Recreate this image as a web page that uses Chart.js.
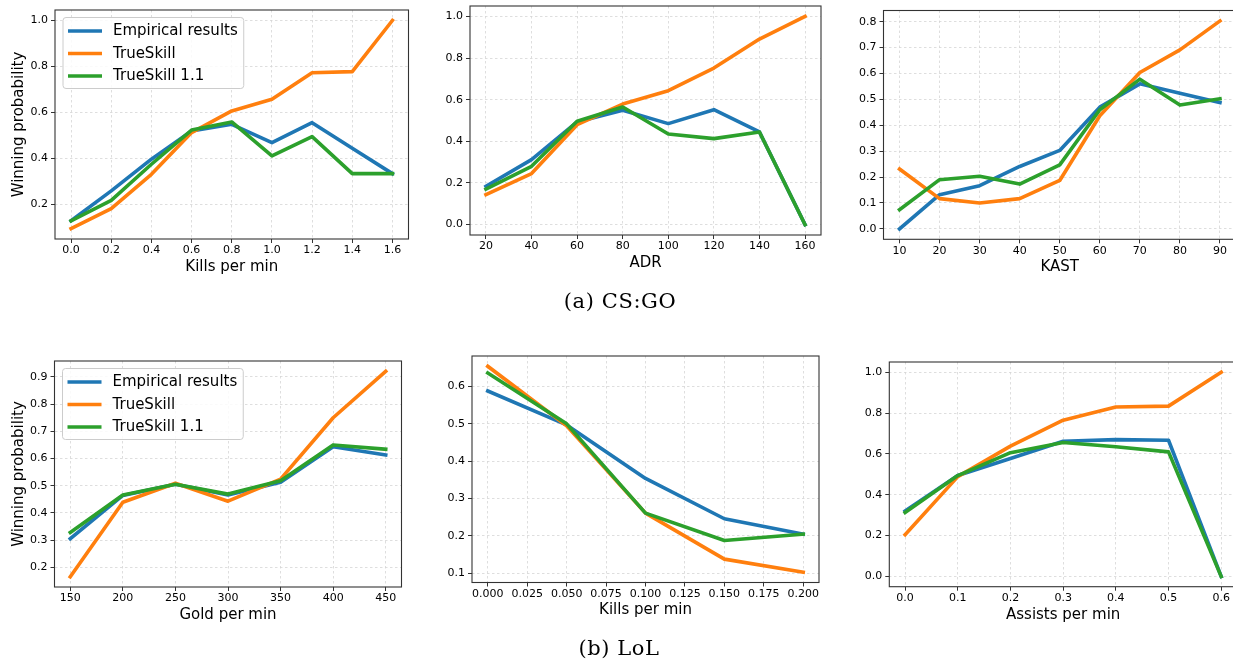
<!DOCTYPE html>
<html>
<head>
<meta charset="utf-8">
<script src="https://cdn.jsdelivr.net/npm/chart.js@4.4.1/dist/chart.umd.min.js"></script>
<style>
  html, body { margin: 0; padding: 0; background: #fff; overflow: hidden; }
  #wrap { position: relative; width: 1233px; height: 664px; overflow: hidden; }
  #wrap canvas { position: absolute; left: 0; top: 0; }
  .cap { position: absolute; font-family: "DejaVu Serif", serif; font-size: 21px; color: #000;
         transform: translate(-50%, -50%); white-space: nowrap; letter-spacing: 0.6px; }
</style>
</head>
<body>
<div id="wrap">
  <canvas id="c1" width="1240" height="664"></canvas>
  <canvas id="c2" width="1240" height="664"></canvas>
  <canvas id="c3" width="1240" height="664"></canvas>
  <canvas id="c4" width="1240" height="664"></canvas>
  <canvas id="c5" width="1240" height="664"></canvas>
  <canvas id="c6" width="1240" height="664"></canvas>
  <div class="cap" style="left:620px;top:301px">(a) CS:GO</div>
  <div class="cap" style="left:619px;top:648px">(b) LoL</div>
</div>
<script>
const seriesNames = ["Empirical results", "TrueSkill", "TrueSkill 1.1"];
const colors = ["#1f77b4", "#ff7f0e", "#2ca02c"];

// CS:GO - kills per min
const csKillsX = [0.0, 0.2, 0.4, 0.6, 0.8, 1.0, 1.2, 1.4, 1.6];
const csKillsEmp = [0.128, 0.258, 0.396, 0.519, 0.548, 0.468, 0.555, 0.444, 0.333];
const csKillsTs = [0.094, 0.181, 0.330, 0.512, 0.606, 0.657, 0.772, 0.777, 1.0];
const csKillsTs11 = [0.128, 0.217, 0.374, 0.523, 0.558, 0.410, 0.494, 0.333, 0.333];
const csKillsXTicks = ["0.0", "0.2", "0.4", "0.6", "0.8", "1.0", "1.2", "1.4", "1.6"];
const csKillsYTicks = ["0.2", "0.4", "0.6", "0.8", "1.0"];

// CS:GO - ADR
const adrX = [20, 40, 60, 80, 100, 120, 140, 160];
const adrEmp = [0.184, 0.312, 0.493, 0.549, 0.485, 0.552, 0.445, 0.0];
const adrTs = [0.144, 0.245, 0.480, 0.579, 0.643, 0.752, 0.891, 1.0];
const adrTs11 = [0.171, 0.280, 0.496, 0.565, 0.435, 0.413, 0.445, 0.0];
const adrXTicks = ["20", "40", "60", "80", "100", "120", "140", "160"];
const adrYTicks = ["0.0", "0.2", "0.4", "0.6", "0.8", "1.0"];

// CS:GO - KAST
const kastX = [10, 20, 30, 40, 50, 60, 70, 80, 90];
const kastEmp = [0.0, 0.132, 0.167, 0.241, 0.303, 0.470, 0.560, 0.524, 0.488];
const kastTs = [0.231, 0.117, 0.100, 0.117, 0.187, 0.437, 0.604, 0.691, 0.803];
const kastTs11 = [0.074, 0.190, 0.203, 0.173, 0.247, 0.460, 0.578, 0.478, 0.502];
const kastXTicks = ["10", "20", "30", "40", "50", "60", "70", "80", "90"];
const kastYTicks = ["0.0", "0.1", "0.2", "0.3", "0.4", "0.5", "0.6", "0.7", "0.8"];

// LoL - gold per min
const goldX = [150, 200, 250, 300, 350, 400, 450];
const goldEmp = [0.305, 0.464, 0.505, 0.466, 0.513, 0.643, 0.613];
const goldTs = [0.165, 0.439, 0.509, 0.443, 0.524, 0.750, 0.921];
const goldTs11 = [0.328, 0.466, 0.505, 0.469, 0.518, 0.650, 0.634];
const goldXTicks = ["150", "200", "250", "300", "350", "400", "450"];
const goldYTicks = ["0.2", "0.3", "0.4", "0.5", "0.6", "0.7", "0.8", "0.9"];

// LoL - kills per min
const lolKillsX = [0.0, 0.05, 0.10, 0.15, 0.20];
const lolKillsEmp = [0.588, 0.497, 0.354, 0.246, 0.205];
const lolKillsTs = [0.654, 0.495, 0.261, 0.138, 0.103];
const lolKillsTs11 = [0.636, 0.500, 0.261, 0.188, 0.205];
const lolKillsXTicks = ["0.000", "0.025", "0.050", "0.075", "0.100", "0.125", "0.150", "0.175", "0.200"];
const lolKillsYTicks = ["0.1", "0.2", "0.3", "0.4", "0.5", "0.6"];

// LoL - assists per min
const assistsX = [0.0, 0.1, 0.2, 0.3, 0.4, 0.5, 0.6];
const assistsEmp = [0.321, 0.494, 0.578, 0.662, 0.670, 0.667, 0.0];
const assistsTs = [0.205, 0.489, 0.638, 0.765, 0.830, 0.834, 1.0];
const assistsTs11 = [0.313, 0.494, 0.606, 0.656, 0.635, 0.610, 0.0];
const assistsXTicks = ["0.0", "0.1", "0.2", "0.3", "0.4", "0.5", "0.6"];
const assistsYTicks = ["0.0", "0.2", "0.4", "0.6", "0.8", "1.0"];

const W = 1240, H = 664;
const FONT = '"DejaVu Sans", sans-serif';

const panels = [
  { id: "c1", x: csKillsX, series: [csKillsEmp, csKillsTs, csKillsTs11], xTicks: csKillsXTicks, yTicks: csKillsYTicks,
    xTitle: "Kills per min", yTitle: "Winning probability", legend: true, area: { left: 55, top: 10, right: 408.5, bottom: 239 } },
  { id: "c2", x: adrX, series: [adrEmp, adrTs, adrTs11], xTicks: adrXTicks, yTicks: adrYTicks,
    xTitle: "ADR", area: { left: 470, top: 6, right: 821, bottom: 235 } },
  { id: "c3", x: kastX, series: [kastEmp, kastTs, kastTs11], xTicks: kastXTicks, yTicks: kastYTicks,
    xTitle: "KAST", area: { left: 883.5, top: 10.5, right: 1236, bottom: 239.3 } },
  { id: "c4", x: goldX, series: [goldEmp, goldTs, goldTs11], xTicks: goldXTicks, yTicks: goldYTicks,
    xTitle: "Gold per min", yTitle: "Winning probability", legend: true, area: { left: 54.5, top: 361, right: 401.5, bottom: 587 } },
  { id: "c5", x: lolKillsX, series: [lolKillsEmp, lolKillsTs, lolKillsTs11], xTicks: lolKillsXTicks, yTicks: lolKillsYTicks,
    xTitle: "Kills per min", area: { left: 472, top: 356, right: 819, bottom: 582.5 } },
  { id: "c6", x: assistsX, series: [assistsEmp, assistsTs, assistsTs11], xTicks: assistsXTicks, yTicks: assistsYTicks,
    xTitle: "Assists per min", area: { left: 889.3, top: 362, right: 1237, bottom: 586.7 } },
];

// box around the plot, like matplotlib spines
const frame = {
  id: "frame",
  afterDraw(chart) {
    const { ctx, chartArea: a } = chart;
    ctx.save();
    ctx.strokeStyle = "#333";
    ctx.lineWidth = 1.1;
    ctx.strokeRect(a.left, a.top, a.right - a.left, a.bottom - a.top);
    ctx.restore();
  },
};

// legend drawn inside the plot, upper left
const inPlotLegend = {
  id: "inPlotLegend",
  afterDatasetsDraw(chart, args, opts) {
    if (!opts.show) return;
    const { ctx, chartArea } = chart;
    ctx.save();
    ctx.font = '15px ' + FONT;
    const tw = Math.max(...chart.data.datasets.map((d) => ctx.measureText(d.label).width));
    const x0 = chartArea.left + 8, y0 = chartArea.top + 7.5;
    const w = tw + 56, h = 71;
    ctx.fillStyle = "rgba(255,255,255,0.85)";
    ctx.strokeStyle = "#cccccc";
    ctx.lineWidth = 1;
    ctx.beginPath();
    ctx.roundRect(x0, y0, w, h, 3);
    ctx.fill();
    ctx.stroke();
    chart.data.datasets.forEach((ds, i) => {
      const y = y0 + 13.5 + i * 22.5;
      ctx.strokeStyle = ds.borderColor;
      ctx.lineWidth = 3.6;
      ctx.beginPath();
      ctx.moveTo(x0 + 5, y);
      ctx.lineTo(x0 + 39, y);
      ctx.stroke();
      ctx.fillStyle = "#000";
      ctx.textBaseline = "middle";
      ctx.fillText(ds.label, x0 + 50, y + 0.5);
    });
    ctx.restore();
  },
};

const axisCommon = () => ({
  grid: { color: "#d6d6d6", lineWidth: 0.8, tickLength: 4, tickColor: "#333", tickWidth: 1, tickBorderDash: [] },
  border: { display: false, dash: [2.5, 2.5] },
});

const makeChart = (p) => {
  const all = p.series.flat();
  const ymin = Math.min(...all), ymax = Math.max(...all);
  const ym = (ymax - ymin) * 0.05;
  const xmin = p.x[0], xmax = p.x[p.x.length - 1];
  const xm = (xmax - xmin) * 0.05;
  const yW = p.yTitle ? p.area.left - 10 : 40;
  const xH = 37;

  new Chart(document.getElementById(p.id), {
    type: "line",
    data: {
      datasets: p.series.map((ys, i) => ({
        label: seriesNames[i],
        data: p.x.map((x, j) => ({ x: x, y: ys[j] })),
        borderColor: colors[i],
        backgroundColor: colors[i],
        borderWidth: 3.6,
        borderJoinStyle: "round",
        borderCapStyle: "square",
        pointRadius: 0,
        tension: 0,
        fill: false,
        order: 2 - i,
      })),
    },
    options: {
      responsive: false,
      animation: false,
      events: [],
      layout: {
        padding: {
          left: p.area.left - yW,
          top: p.area.top,
          right: W - p.area.right,
          bottom: H - p.area.bottom - xH,
        },
      },
      plugins: {
        legend: { display: false },
        tooltip: { enabled: false },
        inPlotLegend: { show: !!p.legend },
      },
      scales: {
        x: {
          type: "linear",
          min: xmin - xm,
          max: xmax + xm,
          ...axisCommon(),
          afterBuildTicks: (s) => { s.ticks = p.xTicks.map((t) => ({ value: parseFloat(t) })); },
          afterFit: (s) => { s.height = xH; s.paddingLeft = 0; s.paddingRight = 0; },
          ticks: {
            autoSkip: false, maxRotation: 0, padding: 1, color: "#000",
            font: { family: FONT, size: 11 },
            callback: (v, i) => p.xTicks[i],
          },
          title: { display: true, text: p.xTitle, color: "#000", padding: 0, font: { family: FONT, size: 15 } },
        },
        y: {
          type: "linear",
          min: ymin - ym,
          max: ymax + ym,
          ...axisCommon(),
          afterBuildTicks: (s) => { s.ticks = p.yTicks.map((t) => ({ value: parseFloat(t) })); },
          afterFit: (s) => { s.width = yW; s.paddingTop = 0; s.paddingBottom = 0; },
          ticks: {
            autoSkip: false, padding: 3, color: "#000",
            font: { family: FONT, size: 11 },
            callback: (v, i) => p.yTicks[i],
          },
          title: { display: !!p.yTitle, text: p.yTitle || "", color: "#000", padding: 0, font: { family: FONT, size: 15 } },
        },
      },
    },
    plugins: [frame, inPlotLegend],
  });
};

panels.forEach(makeChart);
</script>
</body>
</html>
